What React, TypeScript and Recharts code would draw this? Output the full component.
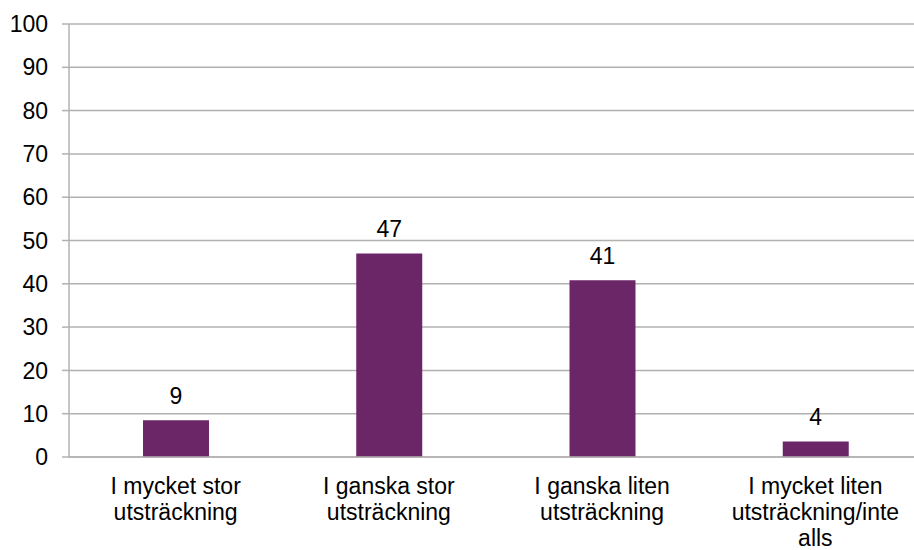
import React from "react";
import { BarChart, Bar, XAxis, YAxis, CartesianGrid, LabelList } from "recharts";

const categories = [
  "I mycket stor utsträckning",
  "I ganska stor utsträckning",
  "I ganska liten utsträckning",
  "I mycket liten utsträckning/inte alls",
];
const categoryLines = [
  ["I mycket stor", "utsträckning"],
  ["I ganska stor", "utsträckning"],
  ["I ganska liten", "utsträckning"],
  ["I mycket liten", "utsträckning/inte", "alls"],
];
const values = [8.5, 47, 40.8, 3.6];
const valueLabels = ["9", "47", "41", "4"];
const yTicks = [0, 10, 20, 30, 40, 50, 60, 70, 80, 90, 100];

const data = categories.map((c, i) => ({
  name: c,
  value: values[i],
  label: valueLabels[i],
  idx: i,
}));

const FONT = "Arial, 'Liberation Sans', sans-serif";

const CategoryTick = (props: any) => {
  const { x, y, payload } = props;
  const lines = categoryLines[payload.index] || [String(payload.value)];
  return (
    <text
      x={x}
      y={y + 37}
      textAnchor="middle"
      fill="#000"
      fontSize={23}
      fontFamily={FONT}
    >
      {lines.map((l: string, i: number) => (
        <tspan key={i} x={x} dy={i === 0 ? 0 : 26}>
          {l}
        </tspan>
      ))}
    </text>
  );
};

export default function App() {
  return (
    <div
      style={{
        position: "absolute",
        left: 0,
        top: 0,
        width: 914,
        height: 550,
        overflow: "hidden",
        background: "#fff",
      }}
    >
      <BarChart
        width={922}
        height={550}
        data={data}
        margin={{ top: 24, right: 0, bottom: 0, left: 9 }}
      >
        <CartesianGrid
          vertical={false}
          stroke="#b3b0b0"
          strokeWidth={1.5}
        />
        <XAxis
          dataKey="name"
          axisLine={{ stroke: "#b3b0b0", strokeWidth: 1.5 }}
          tickLine={false}
          tickSize={0}
          tickMargin={0}
          height={93}
          interval={0}
          tick={<CategoryTick />}
        />
        <YAxis
          width={60}
          domain={[0, 100]}
          ticks={yTicks}
          interval={0}
          axisLine={{ stroke: "#b3b0b0", strokeWidth: 1.5 }}
          tickLine={{ stroke: "#b3b0b0", strokeWidth: 1.5 }}
          tickSize={7}
          tickMargin={14}
          tick={{ fill: "#000", fontSize: 23, fontFamily: FONT }}
        />
        <Bar dataKey="value" fill="#6b2667" barSize={66} isAnimationActive={false}>
          <LabelList
            dataKey="label"
            position="top"
            offset={16}
            fill="#000"
            fontSize={23}
            fontFamily={FONT}
          />
        </Bar>
      </BarChart>
    </div>
  );
}
